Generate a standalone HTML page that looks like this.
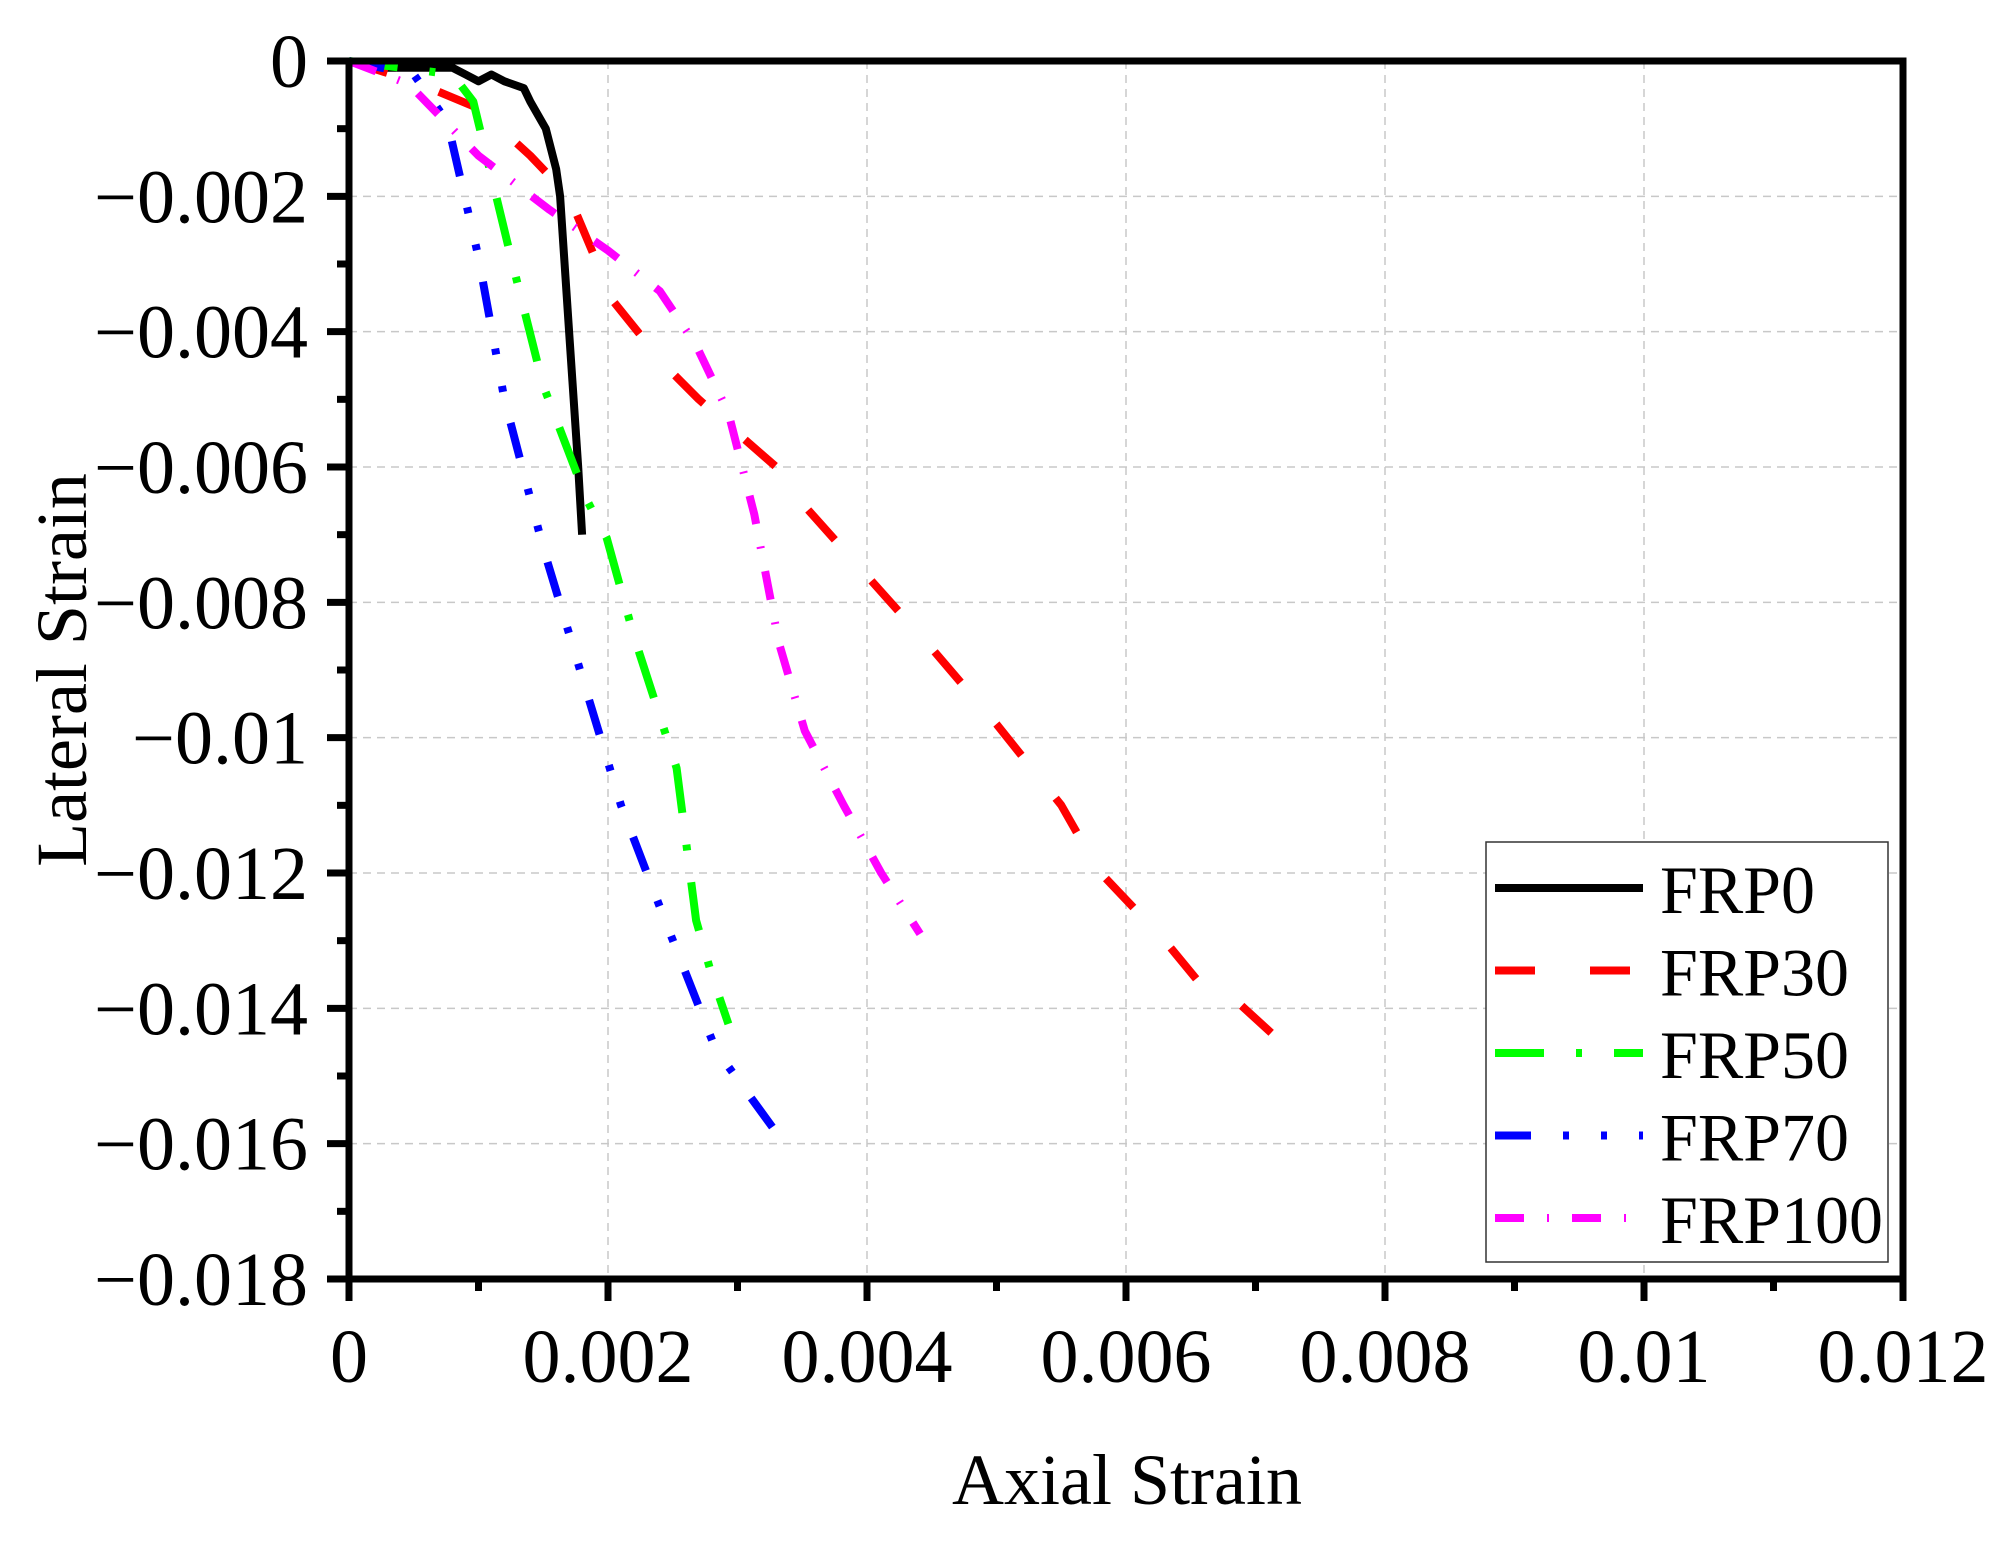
<!DOCTYPE html>
<html><head><meta charset="utf-8"><style>
html,body{margin:0;padding:0;background:#fff}
svg{display:block}
text{font-family:"Liberation Serif",serif;fill:#000}
</style></head><body>
<svg id="s" width="2004" height="1548" viewBox="0 0 2004 1548" xmlns="http://www.w3.org/2000/svg">
<rect width="2004" height="1548" fill="#fff"/>
<g id="grid" stroke="#c8c8c8" stroke-width="1.5" stroke-dasharray="8,6"></g>
<g id="series" fill="none" stroke-linejoin="round"></g>
<g id="axes"></g>
<g id="legend"></g>
<text x="1127" y="1504" font-size="72" text-anchor="middle">Axial Strain</text>
<text transform="translate(86,670) rotate(-90)" font-size="72" text-anchor="middle">Lateral Strain</text>
</svg>
<script>
var X0=349,X1=1903,Y0=61,Y1=1279;
function px(x){return X0+(X1-X0)*x/0.012}
function py(y){return Y0+(Y1-Y0)*(-y)/0.018}
var NS="http://www.w3.org/2000/svg";
function el(p,t,a,txt){var e=document.createElementNS(NS,t);for(var k in a)e.setAttribute(k,a[k]);if(txt!=null)e.textContent=txt;document.getElementById(p).appendChild(e);return e}
for(var i=1;i<6;i++){var x=px(i*0.002);el('grid','line',{x1:x,y1:Y0,x2:x,y2:Y1});}
for(var i=1;i<9;i++){var y=py(-i*0.002);el('grid','line',{x1:X0,y1:y,x2:X1,y2:y});}
var S=[
 {c:"#000",d:"none",p:[[0,0],[0.0002,-0.0001],[0.0008,-0.0001],[0.0009,-0.0002],[0.001,-0.0003],[0.0011,-0.0002],[0.0012,-0.0003],[0.00135,-0.0004],[0.0014,-0.0006],[0.00152,-0.001],[0.0016,-0.0016],[0.00163,-0.002],[0.0017,-0.004],[0.00177,-0.006],[0.0018,-0.007]]},
 {c:"#ff0000",d:"40,55",p:[[0,0],[0.0005,-0.0003],[0.001,-0.0007],[0.0014,-0.0014],[0.0017,-0.002],[0.00204,-0.00355],[0.00244,-0.0045],[0.0027,-0.005],[0.003,-0.0055],[0.0033,-0.006],[0.00352,-0.00658],[0.00449,-0.00866],[0.005,-0.0098],[0.0055,-0.011],[0.00579,-0.01197],[0.0063,-0.013],[0.0066,-0.0137],[0.0068,-0.0138],[0.0072,-0.0145],[0.00737,-0.0146]]},
 {c:"#00ff00",d:"49,32,6,32",p:[[0,0],[0.0008,-0.0002],[0.00096,-0.0006],[0.00125,-0.0029],[0.0015,-0.0048],[0.00184,-0.0065],[0.00199,-0.00705],[0.0022,-0.0085],[0.00253,-0.01045],[0.00268,-0.0127],[0.0028,-0.0135],[0.00293,-0.01423]]},
 {c:"#0000ff",d:"36,32,6,32,6,32",p:[[0,0],[0.0005,-0.0002],[0.00076,-0.0009],[0.001,-0.0029],[0.0012,-0.005],[0.0015,-0.0072],[0.0018,-0.0091],[0.0021,-0.011],[0.00244,-0.0127],[0.00283,-0.0146],[0.0034,-0.0161]]},
 {c:"#ff00ff",d:"29,23,2,23",p:[[0,0],[0.00046,-0.00034],[0.001,-0.0014],[0.00155,-0.0022],[0.002,-0.0028],[0.0024,-0.0034],[0.00268,-0.0042],[0.00293,-0.0052],[0.00313,-0.0067],[0.00332,-0.0086],[0.00352,-0.0099],[0.00382,-0.011],[0.00411,-0.012],[0.00441,-0.0129]]}
];
S.forEach(function(s){var d=s.p.map(function(q,i){return (i?"L":"M")+px(q[0]).toFixed(1)+","+py(q[1]).toFixed(1)}).join(" ");
 var a={d:d,stroke:s.c,"stroke-width":8};if(s.d!="none")a["stroke-dasharray"]=s.d;el('series','path',a);});
el('axes','rect',{x:X0,y:Y0,width:X1-X0,height:Y1-Y0,fill:"none",stroke:"#000","stroke-width":7});
for(var i=0;i<=12;i++){var x=px(i*0.001),L=(i%2==0)?22:12;el('axes','line',{x1:x,y1:Y1,x2:x,y2:Y1+L,stroke:"#000","stroke-width":7});}
for(var i=0;i<=18;i++){var y=py(-i*0.001),L=(i%2==0)?22:12;el('axes','line',{x1:X0,y1:y,x2:X0-L,y2:y,stroke:"#000","stroke-width":7});}
var xl=["0","0.002","0.004","0.006","0.008","0.01","0.012"];
xl.forEach(function(t,i){el('axes','text',{x:px(i*0.002),y:1382,"font-size":76,"text-anchor":"middle"},t)});
var yl=["0","\u22120.002","\u22120.004","\u22120.006","\u22120.008","\u22120.01","\u22120.012","\u22120.014","\u22120.016","\u22120.018"];
yl.forEach(function(t,i){el('axes','text',{x:308,y:py(-i*0.002)+26,"font-size":76,"text-anchor":"end"},t)});
el('legend','rect',{x:1486,y:842,width:402,height:420,fill:"#fff",stroke:"#333","stroke-width":1.5});
var names=["FRP0","FRP30","FRP50","FRP70","FRP100"];
names.forEach(function(n,i){var y=888+i*82.5,s=S[i];var a={x1:1495,y1:y,x2:1643,y2:y,stroke:s.c,"stroke-width":8};if(s.d!="none")a["stroke-dasharray"]=s.d;el('legend','line',a);
 el('legend','text',{x:1660,y:y+25,"font-size":68},n);});
</script>
</body></html>
